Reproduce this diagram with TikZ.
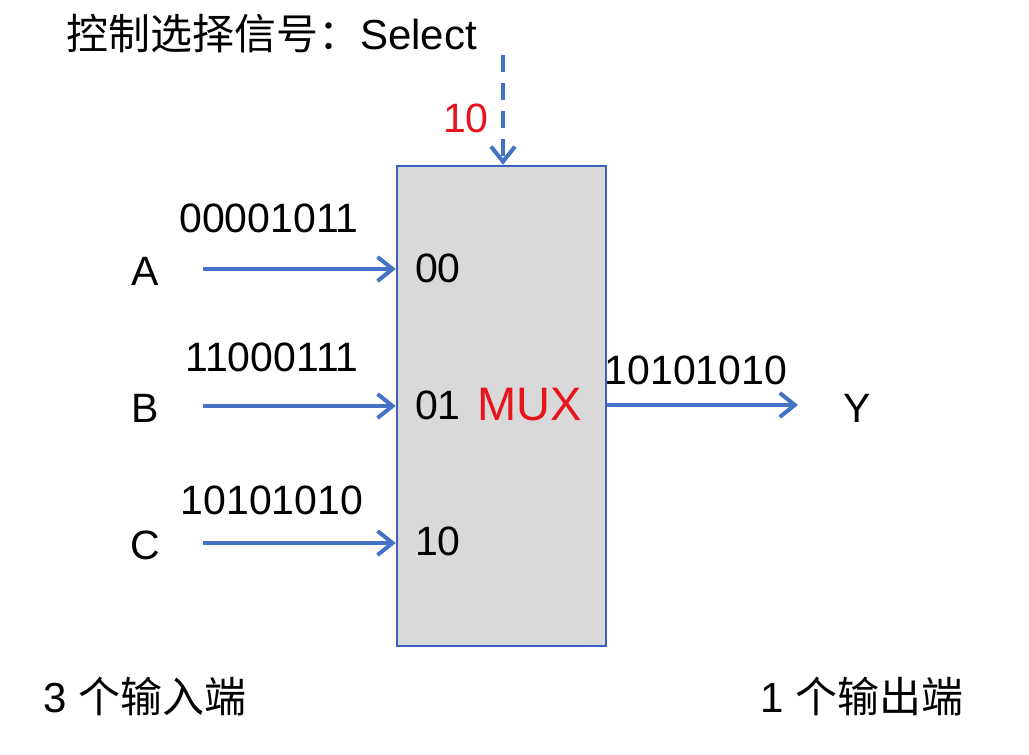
\documentclass[tikz,border=0pt]{standalone}
\usepackage{fontspec}
\setmainfont{Liberation Sans}
\newfontfamily\cjk{Noto Sans CJK SC}
\usetikzlibrary{arrows.meta}
\definecolor{wire}{HTML}{4472C4}
\definecolor{boxline}{HTML}{3F5FBF}
\definecolor{boxfill}{HTML}{D9D9D9}
\definecolor{redtxt}{HTML}{E8141B}
\tikzset{
  txt/.style={inner sep=0pt, font=\fontsize{41}{44}\selectfont},
  wirearrow/.style={draw=wire, line width=4pt, -{Straight Barb[length=15pt,width=24pt,line width=4pt]}},
}
\begin{document}
\begin{tikzpicture}[x=1pt,y=-1pt]
\useasboundingbox[fill=white] (0,0) rectangle (1029,755);
% MUX box
\node[draw=boxline, fill=boxfill, line width=2.5pt, minimum width=209pt, minimum height=480pt, inner sep=0pt] (mux) at (501.5,406) {};
\node[txt, text=redtxt, font=\fontsize{47}{50}\selectfont] (muxl) at (530,405) {MUX};
% title
\node[txt, anchor=west, font=\fontsize{42}{46}\selectfont] (title) at (66,34) {{\cjk 控制选择信号：}Select};
% select line
\coordinate (sel) at (503,55);
\draw[wirearrow, dash pattern=on 17pt off 11pt] (sel) -- (mux.north -| sel);
\node[txt, text=redtxt] (sv) at (466,118) {10};
% inputs
\node[txt] (A) at (145,271) {A};
\node[txt] (B) at (145,408) {B};
\node[txt] (C) at (145,545) {C};
\coordinate (a0) at (203,269);
\coordinate (b0) at (203,406);
\coordinate (c0) at (203,543);
\draw[wirearrow] (a0) -- (mux.west |- a0);
\draw[wirearrow] (b0) -- (mux.west |- b0);
\draw[wirearrow] (c0) -- (mux.west |- c0);
\node[txt] (av) at (269,218) {00001011};
\node[txt] (bv) at (272,357) {11000111};
\node[txt] (cv) at (272,500) {10101010};
% port labels
\node[txt, anchor=west] (p0) at (415,268) {00};
\node[txt, anchor=west] (p1) at (415,405) {01};
\node[txt, anchor=west] (p2) at (415,541) {10};
% output
\coordinate (y1) at (798,405);
\draw[wirearrow] (mux.east |- y1) -- (y1);
\node[txt] (yv) at (696,370) {10101010};
\node[txt] (Y) at (857,408) {Y};
% bottom
\node[txt, anchor=west, font=\fontsize{42}{46}\selectfont] (inl) at (43,697) {3 {\cjk 个输入端}};
\node[txt, anchor=west, font=\fontsize{42}{46}\selectfont] (outl) at (760,697) {1 {\cjk 个输出端}};
\end{tikzpicture}
\end{document}
